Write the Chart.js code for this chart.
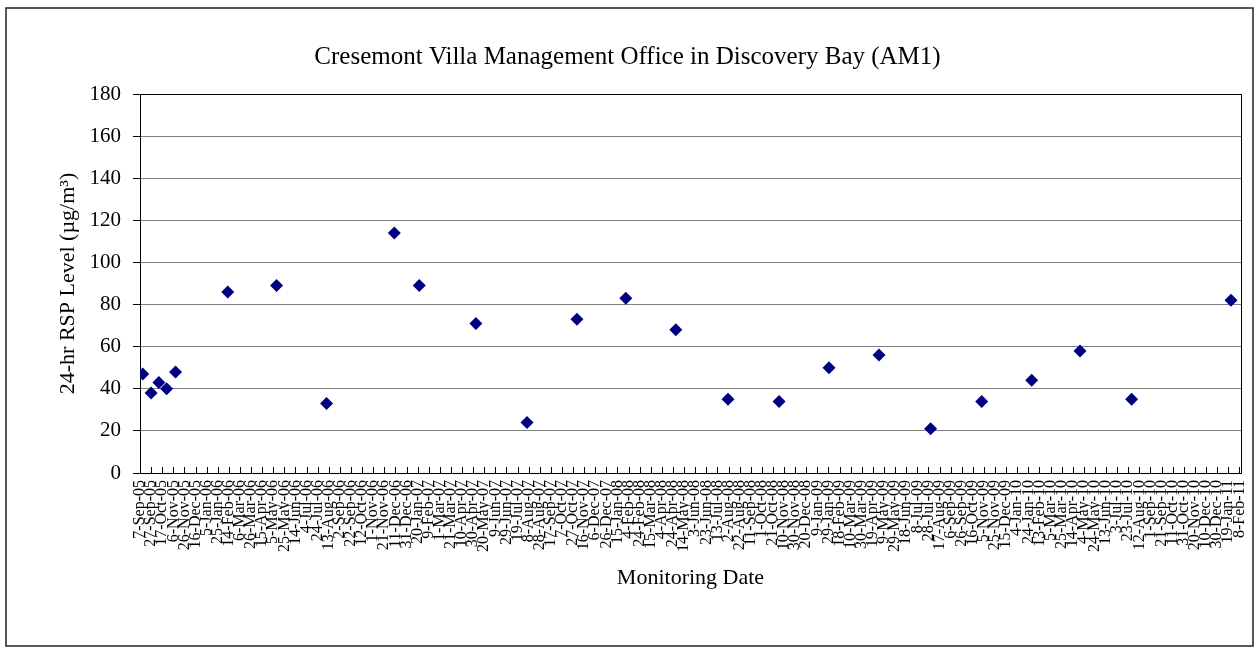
<!DOCTYPE html>
<html>
<head>
<meta charset="utf-8">
<script src="https://cdn.jsdelivr.net/npm/chart.js@4.4.0/dist/chart.umd.min.js"></script>
<style>
html, body { margin: 0; padding: 0; background: #fff; }
</style>
</head>
<body>
<canvas id="grafico" width="1260" height="652"></canvas>
<script>
const FONTE = "'Liberation Serif', 'Times New Roman', serif";

// Etiquetas do eixo X (datas de 20 em 20 dias)
const tickLabels = [
    "7-Sep-05", "27-Sep-05", "17-Oct-05", "6-Nov-05", "26-Nov-05", "16-Dec-05", "5-Jan-06", "25-Jan-06",
    "14-Feb-06", "6-Mar-06", "26-Mar-06", "15-Apr-06", "5-May-06", "25-May-06", "14-Jun-06", "4-Jul-06",
    "24-Jul-06", "13-Aug-06", "2-Sep-06", "22-Sep-06", "12-Oct-06", "1-Nov-06", "21-Nov-06", "11-Dec-06",
    "31-Dec-06", "20-Jan-07", "9-Feb-07", "1-Mar-07", "21-Mar-07", "10-Apr-07", "30-Apr-07", "20-May-07",
    "9-Jun-07", "29-Jun-07", "19-Jul-07", "8-Aug-07", "28-Aug-07", "17-Sep-07", "7-Oct-07", "27-Oct-07",
    "16-Nov-07", "6-Dec-07", "26-Dec-07", "15-Jan-08", "4-Feb-08", "24-Feb-08", "15-Mar-08", "4-Apr-08",
    "24-Apr-08", "14-May-08", "3-Jun-08", "23-Jun-08", "13-Jul-08", "2-Aug-08", "22-Aug-08", "11-Sep-08",
    "1-Oct-08", "21-Oct-08", "10-Nov-08", "30-Nov-08", "20-Dec-08", "9-Jan-09", "29-Jan-09", "18-Feb-09",
    "10-Mar-09", "30-Mar-09", "19-Apr-09", "9-May-09", "29-May-09", "18-Jun-09", "8-Jul-09", "28-Jul-09",
    "17-Aug-09", "6-Sep-09", "26-Sep-09", "16-Oct-09", "5-Nov-09", "25-Nov-09", "15-Dec-09", "4-Jan-10",
    "24-Jan-10", "13-Feb-10", "5-Mar-10", "25-Mar-10", "14-Apr-10", "4-May-10", "24-May-10", "13-Jun-10",
    "3-Jul-10", "23-Jul-10", "12-Aug-10", "1-Sep-10", "21-Sep-10", "11-Oct-10", "31-Oct-10", "20-Nov-10",
    "10-Dec-10", "30-Dec-10", "19-Jan-11", "8-Feb-11"
];

// Datas de monitorizacao e niveis RSP medidos
const sampleDates = [
    "12-Sep-05", "27-Sep-05", "11-Oct-05", "25-Oct-05", "10-Nov-05", "12-Feb-06", "11-May-06", "9-Aug-06",
    "9-Dec-06", "23-Jan-07", "5-May-07", "5-Aug-07", "3-Nov-07", "30-Jan-08", "29-Apr-08", "1-Aug-08",
    "1-Nov-08", "30-Jan-09", "30-Apr-09", "1-Aug-09", "1-Nov-09", "30-Jan-10", "27-Apr-10", "29-Jul-10",
    "24-Jan-11"
];
const rspLevels = [
    47, 38, 43, 40, 48, 86, 89, 33,
    114, 89, 71, 24, 73, 83, 68, 35,
    34, 50, 56, 21, 34, 44, 58, 35,
    82
];

const yTicks = [0, 20, 40, 60, 80, 100, 120, 140, 160, 180];

const MESES = { Jan: 0, Feb: 1, Mar: 2, Apr: 3, May: 4, Jun: 5, Jul: 6, Aug: 7, Sep: 8, Oct: 9, Nov: 10, Dec: 11 };
const ORIGEM = Date.UTC(2005, 8, 7);

// dias desde 7-Sep-05
function dia(txt) {
    const [d, m, a] = txt.split("-");
    return Math.round((Date.UTC(2000 + Number(a), MESES[m], Number(d)) - ORIGEM) / 86400000);
}

const moldura = {
    id: "moldura",
    beforeDraw(chart) {
        const ctx = chart.ctx;
        ctx.save();
        ctx.fillStyle = "#fff";
        ctx.fillRect(0, 0, chart.width, chart.height);
        ctx.strokeStyle = "#222";
        ctx.lineWidth = 1.5;
        ctx.strokeRect(6, 8, 1247, 638);
        ctx.restore();
    },
    beforeDatasetsDraw(chart) {
        const { ctx, chartArea: a, scales } = chart;
        ctx.save();
        ctx.strokeStyle = "#000";
        ctx.lineWidth = 1;
        ctx.strokeRect(Math.round(a.left) + 0.5, Math.round(a.top) + 0.5,
            Math.round(a.right - a.left), Math.round(a.bottom - a.top));
        // marcas do eixo X para dentro
        ctx.beginPath();
        scales.x.ticks.forEach(t => {
            const x = Math.round(scales.x.getPixelForValue(t.value)) + 0.5;
            ctx.moveTo(x, a.bottom);
            ctx.lineTo(x, a.bottom - 6);
        });
        ctx.stroke();
        ctx.restore();
    }
};

new Chart(document.getElementById("grafico").getContext("2d"), {
    type: "scatter",
    data: {
        datasets: [{
            label: "AM1",
            data: sampleDates.map((d, i) => ({ x: dia(d), y: rspLevels[i] })),
            pointStyle: "rectRot",
            pointRadius: 6.5,
            pointHoverRadius: 6.5,
            backgroundColor: "#000080",
            borderWidth: 0
        }]
    },
    options: {
        responsive: false,
        animation: false,
        layout: { padding: { top: 20, left: 14, right: 19, bottom: 0 } },
        plugins: {
            legend: { display: false },
            tooltip: { enabled: false },
            title: {
                display: true,
                text: "Cresemont Villa Management Office in Discovery Bay (AM1)",
                color: "#000",
                font: { family: FONTE, size: 25, weight: "normal" },
                padding: { top: 22, bottom: 22 }
            }
        },
        scales: {
            x: {
                type: "linear",
                min: 0,
                max: 1983,
                afterBuildTicks: s => { s.ticks = tickLabels.map(l => ({ value: dia(l) })); },
                afterFit: s => { s.height = 179; s.paddingLeft = 0; s.paddingRight = 0; },
                ticks: {
                    autoSkip: false,
                    maxRotation: 90,
                    minRotation: 90,
                    padding: 7,
                    color: "#000",
                    font: { family: FONTE, size: 16 },
                    callback: (v, i) => tickLabels[i]
                },
                grid: { drawOnChartArea: false, drawTicks: false },
                border: { color: "#000" },
                title: {
                    display: true,
                    text: "Monitoring Date",
                    color: "#000",
                    font: { family: FONTE, size: 22 },
                    padding: { top: 0, bottom: 61 }
                }
            },
            y: {
                min: 0,
                max: 180,
                afterBuildTicks: s => { s.ticks = yTicks.map(v => ({ value: v })); },
                afterFit: s => { s.width = 126; },
                ticks: {
                    padding: 12,
                    color: "#000",
                    font: { family: FONTE, size: 21 }
                },
                grid: { color: "#808080", tickColor: "#000", tickLength: 7 },
                border: { color: "#000" },
                title: {
                    display: true,
                    text: "24-hr RSP Level (µg/m³)",
                    color: "#000",
                    font: { family: FONTE, size: 22 },
                    padding: { top: 41, bottom: 0 }
                }
            }
        }
    },
    plugins: [moldura]
});
</script>
</body>
</html>
